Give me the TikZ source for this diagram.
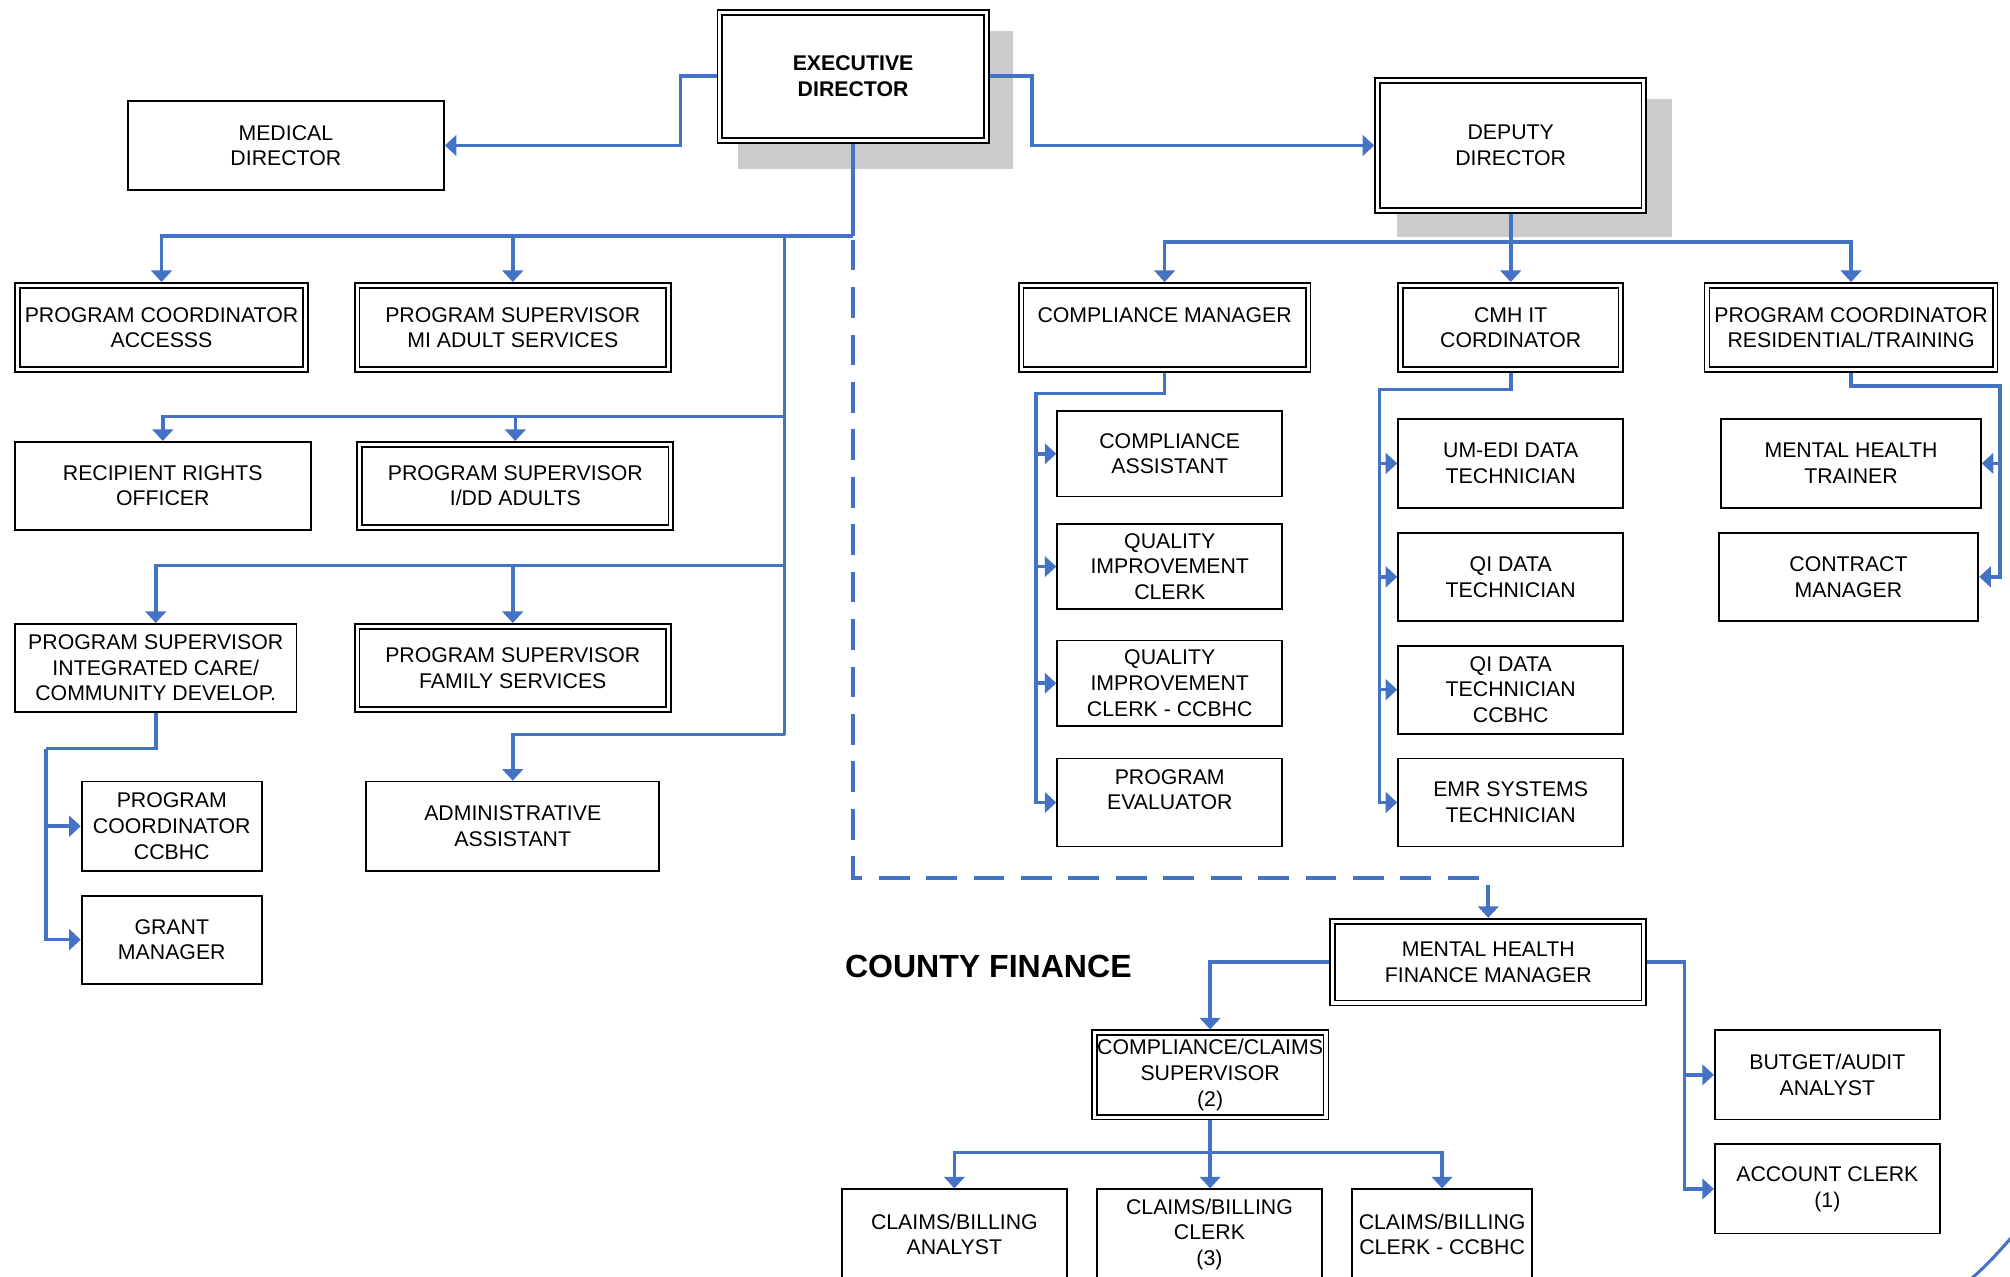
\documentclass[tikz,border=0pt]{standalone}
\usepackage{fontspec}
\setmainfont{Liberation Sans}
\usetikzlibrary{arrows.meta}
\definecolor{lnblue}{RGB}{68,114,196}
\definecolor{shd}{RGB}{204,204,204}
\tikzset{
  txt/.style={font=\fontsize{8.3}{10}\selectfont},
  sbox/.style={draw=black, line width=0.7pt, fill=white, inner sep=0pt, align=center, txt},
  dbox/.style={draw=black, line width=0.7pt, double=white, double distance=1.2pt, fill=white, inner sep=0pt, outer sep=1.3pt, align=center, txt},
  ln/.style={draw=lnblue, line width=1.4pt},
  arr/.style={ln, -{Triangle[width=8pt,length=4.5pt]}},
  dsh/.style={dash pattern=on 12pt off 6.5pt, dash phase=17pt},
}
\newcommand\sbx[7][]{\node[sbox,#1, minimum width={(#5-#3)*0.5pt-0.7pt}, minimum height={(#6-#4)*0.5pt-0.7pt}] (#2) at ({(#3+#5)/2},{(#4+#6)/2}) {#7};}
\newcommand\dbx[7][]{\node[dbox,#1, minimum width={(#5-#3)*0.5pt-2.6pt}, minimum height={(#6-#4)*0.5pt-2.6pt}] (#2) at ({(#3+#5)/2},{(#4+#6)/2}) {#7};}
\begin{document}
\begin{tikzpicture}[x=0.5pt,y=-0.5pt]
\useasboundingbox (0,0) rectangle (1568,996);
\clip (0,0) rectangle (1568,996);
% shadows
\fill[shd] (576,24) rectangle (790,132);
\fill[shd] (1090,77) rectangle (1304,185);
% boxes
\dbx[font=\bfseries\fontsize{8.3}{10}\selectfont]{exec}{559}{7}{772}{112}{EXECUTIVE\\DIRECTOR}
\sbx{med}{99}{78}{347}{149}{MEDICAL\\DIRECTOR}
\dbx{dep}{1072}{60}{1285}{167}{DEPUTY\\DIRECTOR}
\dbx{pca}{11}{220}{241}{291}{PROGRAM COORDINATOR\\ACCESSS}
\dbx{misa}{276}{220}{524}{291}{PROGRAM SUPERVISOR\\MI ADULT SERVICES}
\sbx{rro}{11}{344}{243}{414}{RECIPIENT RIGHTS\\OFFICER}
\dbx{idd}{278}{344}{526}{414}{PROGRAM SUPERVISOR\\I/DD ADULTS}
\sbx{ic}{11}{486}{232}{556}{PROGRAM SUPERVISOR\\INTEGRATED CARE/\\COMMUNITY DEVELOP.}
\dbx{fam}{276}{486}{524}{556}{PROGRAM SUPERVISOR\\FAMILY SERVICES}
\sbx{pcc}{63}{609}{205}{680}{PROGRAM\\COORDINATOR\\CCBHC}
\sbx{gm}{63}{698}{205}{768}{GRANT\\MANAGER}
\sbx{adm}{285}{609}{515}{680}{ADMINISTRATIVE\\ASSISTANT}
\dbx{cm}{794}{220}{1023}{291}{COMPLIANCE MANAGER\\ \mbox{}}
\dbx{cmh}{1090}{220}{1267}{291}{CMH IT\\CORDINATOR}
\dbx{pcr}{1329}{220}{1559}{291}{PROGRAM COORDINATOR\\RESIDENTIAL/TRAINING}
\sbx{ca}{824}{320}{1001}{388}{COMPLIANCE\\ASSISTANT}
\sbx{qic}{824}{408}{1001}{476}{QUALITY\\IMPROVEMENT\\CLERK}
\sbx{qicc}{824}{499}{1001}{567}{QUALITY\\IMPROVEMENT\\CLERK - CCBHC}
\sbx{pe}{824}{591}{1001}{661}{PROGRAM\\EVALUATOR\\ \mbox{}}
\sbx{um}{1090}{326}{1267}{397}{UM-EDI DATA\\TECHNICIAN}
\sbx{qid}{1090}{415}{1267}{485}{QI DATA\\TECHNICIAN}
\sbx{qidc}{1090}{503}{1267}{573}{QI DATA\\TECHNICIAN\\CCBHC}
\sbx{emr}{1090}{591}{1267}{661}{EMR SYSTEMS\\TECHNICIAN}
\sbx{mht}{1342}{326}{1546}{397}{MENTAL HEALTH\\TRAINER}
\sbx{con}{1340}{415}{1544}{485}{CONTRACT\\MANAGER}
\dbx{mhfm}{1037}{716}{1285}{785}{MENTAL HEALTH\\FINANCE MANAGER}
\dbx{ccs}{851}{803}{1037}{874}{COMPLIANCE/CLAIMS\\SUPERVISOR\\(2)}
\sbx{cba}{656}{927}{833}{999}{CLAIMS/BILLING\\ANALYST}
\sbx{cbc}{855}{927}{1032}{999}{CLAIMS/BILLING\\CLERK\\(3)}
\sbx{cbcc}{1054}{927}{1196}{999}{CLAIMS/BILLING\\CLERK - CCBHC}
\sbx{bud}{1337}{803}{1514}{874}{BUTGET/AUDIT\\ANALYST}
\sbx{acc}{1337}{892}{1514}{963}{ACCOUNT CLERK\\(1)}
\node[font=\bfseries\fontsize{12.5}{15}\selectfont, inner sep=0pt] (cf) at (771,754) {COUNTY FINANCE};
% connectors
\draw[arr] (exec.west) -| (531,113.5) -- (med.east);
\draw[arr] (exec.east) -| (805,113.5) -- (dep.west);
\coordinate (j0) at (665.5,184);
\draw[ln] (exec.south) -- (j0);
\draw[arr] (j0) -| (pca.north);
\draw[arr] (400,184) -- (misa.north);
\draw[ln] (612,184) -- (612,573);
\draw[arr] (612,573) -| (adm.north);
\draw[arr] (612,325) -| (rro.north);
\draw[arr] (402,325) -- (idd.north);
\draw[arr] (612,441) -| (ic.north);
\draw[arr] (400,441) -- (fam.north);
\draw[arr,dsh] (j0) -- (665.5,685) -| (mhfm.north);
\draw[ln] (ic.south) |- (36,584);
\draw[arr] (36,584) |- (pcc.west);
\draw[arr] (36,584) |- (gm.west);
\draw[arr] (dep.south) -- (dep.south |- cmh.north);
\draw[arr] (1178.5,189) -| (cm.north);
\draw[arr] (1178.5,189) -| (pcr.north);
\draw[arr] (cm.south) |- (808,307) |- (ca.west);
\foreach \t in {qic,qicc,pe} \draw[arr] (808,307) |- (\t.west);
\draw[arr] (cmh.south) |- (1076,304) |- (um.west);
\foreach \t in {qid,qidc,emr} \draw[arr] (1076,304) |- (\t.west);
\draw[arr] (pcr.south) |- (1560,301) |- (mht.east);
\draw[arr] (1560,301) |- (con.east);
\draw[arr] (mhfm.west) -| (ccs.north);
\draw[arr] (mhfm.east) -- (1314,750.5) |- (bud.west);
\draw[arr] (1314,750.5) |- (acc.west);
\draw[arr] (ccs.south) -- (ccs.south |- cbc.north);
\draw[arr] (944,899) -| (cba.north);
\draw[arr] (944,899) -| (cbcc.north);
% arc at lower right
\draw[lnblue, line width=1.2pt] (1536,999) .. controls (1549,988) and (1559,977) .. (1572,962);
\end{tikzpicture}
\end{document}
